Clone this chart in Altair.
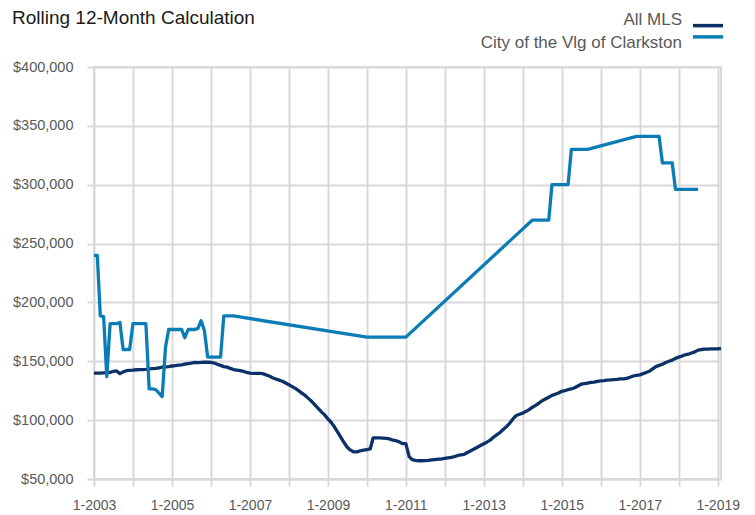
import altair as alt
import pandas as pd

TITLE = "Rolling 12-Month Calculation"
SERIES = ["All MLS", "City of the Vlg of Clarkston"]
COLORS = ["#0b3168", "#0b7db6"]
FONT = "Liberation Sans"

# All MLS: monthly, Jan 2003 .. Feb 2019 (thousands of $)
MLS_START = "2003-01-01"
MLS_END = "2019-02-01"
MLS_VALUES = [
    140, 140, 140, 140.2, 140.3, 140.5, 141.5, 141.8, 139.5, 141, 142, 142.3,        # 2003
    142.5, 142.8, 143, 143, 143.2, 143.5, 143.8, 144, 144.5, 145, 145.3, 145.5,     # 2004
    146, 146.3, 146.8, 147, 147.5, 148, 148.5, 149, 148.8, 149, 149.2, 149.3,       # 2005
    149, 148.5, 147.5, 146.5, 145.5, 145, 144, 143, 142.5, 142, 141.5, 140.5,       # 2006
    140, 139.8, 139.8, 139.8, 139.5, 138.5, 137.5, 136, 135, 134, 133, 131.5,       # 2007
    130, 128.5, 127, 125, 123, 121, 118.5, 116, 113, 110, 107, 104.5,               # 2008
    101, 98, 94.5, 90, 85.5, 81, 77, 74.5, 73, 73, 74, 74.5,                        # 2009
    75, 75.5, 85, 85, 85, 84.8, 84.5, 84, 83, 82.5, 81.5, 80,                       # 2010
    80, 69, 66.5, 65.8, 65.5, 65.5, 65.6, 65.8, 66.2, 66.5, 66.8, 67,               # 2011
    67.5, 68, 68.3, 69, 70, 70.5, 71, 72.5, 74, 75.5, 77, 78.5,                     # 2012
    80, 81.5, 83, 85.5, 87.5, 89.5, 92, 94.5, 97.5, 101, 104, 105,                  # 2013
    106, 107.5, 109, 111, 112.5, 114.5, 116.5, 118, 119.5, 121, 122, 123,           # 2014
    124.5, 125, 126, 126.5, 127.5, 129, 130.5, 131, 131.5, 132, 132.3, 133,         # 2015
    133.3, 133.5, 134, 134.2, 134.5, 134.7, 135, 135, 135.5, 136.5, 137.5, 138,     # 2016
    138.5, 139.5, 140.5, 141.5, 143.5, 145.5, 146.5, 147.5, 149, 150, 151, 152.5,   # 2017
    153.5, 154.5, 155.5, 156, 157, 158, 159.5, 160, 160.3, 160.3, 160.5, 160.5,     # 2018
    160.5, 161,                                                                      # 2019
]

# City of the Vlg of Clarkston: months with data (thousands of $)
CLARK_MONTHS = [
    "2003-01", "2003-02", "2003-03", "2003-04", "2003-05", "2003-06", "2003-07",
    "2003-08", "2003-09", "2003-10", "2003-11", "2003-12", "2004-01", "2004-02",
    "2004-03", "2004-04", "2004-05", "2004-06", "2004-07", "2004-08", "2004-09",
    "2004-10", "2004-11", "2004-12", "2005-01", "2005-02", "2005-03", "2005-04",
    "2005-05", "2005-06", "2005-07", "2005-08", "2005-09", "2005-10", "2005-11",
    "2005-12", "2006-01", "2006-02", "2006-03", "2006-04", "2006-05", "2006-06",
    "2006-07", "2006-08", "2010-01", "2011-01", "2014-04", "2014-09", "2014-10",
    "2015-03", "2015-04", "2015-09", "2016-12", "2017-07", "2017-08", "2017-11",
    "2017-12", "2018-07",
]
CLARK_VALUES = [
    240, 240, 188.5, 188, 137, 182, 182,
    182, 183, 160, 160, 160, 182, 182,
    182, 182, 182, 126.5, 126.5, 126, 123,
    120, 162, 177, 177, 177, 177, 177,
    170, 177, 177, 177, 178, 184.5, 176,
    153.5, 153.5, 153.5, 153.5, 153.5, 188.5, 188.5,
    188.5, 188.5, 170.5, 170.5, 270, 270, 300,
    300, 330, 330, 341, 341, 318.5, 318.5,
    296, 296,
]

Y_TICKS = [50000, 100000, 150000, 200000, 250000, 300000, 350000, 400000]
X_TICK_YEARS = list(range(2003, 2020))

mls_dates = pd.date_range(MLS_START, MLS_END, freq="MS")
assert len(mls_dates) == len(MLS_VALUES)
rows = []
for d, v in zip(mls_dates, MLS_VALUES):
    rows.append({"date": d.strftime("%Y-%m-%d"), "value": v * 1000, "series": SERIES[0]})
for m, v in zip(CLARK_MONTHS, CLARK_VALUES):
    rows.append({"date": m + "-01", "value": v * 1000, "series": SERIES[1]})
df = pd.DataFrame(rows)

GRID = "#d9d9d9"
LABEL = "#595959"

color_scale = alt.Scale(domain=SERIES, range=COLORS)

lines = alt.Chart(df).mark_line(strokeWidth=3.3, strokeJoin="round").encode(
    x=alt.X(
        "date:T",
        title=None,
        scale=alt.Scale(
            type="utc",
            nice=False,
            domain=[alt.DateTime(year=2003, month=1, date=1, utc=True),
                    alt.DateTime(year=2019, month=2, date=1, utc=True)],
        ),
        axis=alt.Axis(
            values=[alt.DateTime(year=y, month=1, date=1, utc=True) for y in X_TICK_YEARS],
            labelExpr="utcyear(datum.value) % 2 == 1 ? utcFormat(datum.value, '%-m-%Y') : ''",
            labelOverlap=False, labelFlush=False, labelAlign="center",
            labelFont=FONT, labelFontSize=14, labelColor=LABEL,
            labelPadding=12, tickSize=7, tickColor=GRID, tickWidth=2,
            domainColor=GRID, domainWidth=2,
            grid=True, gridColor=GRID, gridWidth=2,
        ),
    ),
    y=alt.Y(
        "value:Q",
        title=None,
        scale=alt.Scale(domain=[50000, 400000], nice=False, zero=False),
        axis=alt.Axis(
            values=Y_TICKS, format="$,.0f",
            labelFont=FONT, labelFontSize=14.5, labelColor=LABEL,
            labelPadding=14, tickSize=7, tickColor=GRID, tickWidth=2,
            domain=False, grid=True, gridColor=GRID, gridWidth=2,
        ),
    ),
    color=alt.Color("series:N", scale=color_scale, legend=None),
    order=alt.Order("date:T"),
)

legend_df = pd.DataFrame({"series": SERIES})
legend_y = alt.Y("series:N", axis=None,
                 scale=alt.Scale(domain=SERIES, range=[-47, -24.5], padding=0))

legend_text = alt.Chart(legend_df).mark_text(
    align="right", baseline="middle", font=FONT, fontSize=17, color=LABEL
).encode(
    text="series:N",
    x=alt.value(588),
    y=legend_y,
)

legend_sym = alt.Chart(legend_df).mark_rule(strokeWidth=3.5).encode(
    x=alt.value(599),
    x2=alt.value(629),
    y=legend_y,
    color=alt.Color("series:N", scale=color_scale, legend=None),
)

title = alt.Chart(pd.DataFrame({"t": [TITLE]})).mark_text(
    align="left", baseline="alphabetic", font=FONT, fontSize=19, color="#1a1a1a"
).encode(
    text="t:N",
    x=alt.value(-82),
    y=alt.value(-43),
)

chart = alt.layer(lines, legend_text, legend_sym, title).resolve_scale(
    y="independent"
).properties(
    width=627,
    height=412,
    autosize=alt.AutoSizeParams(type="none"),
    padding={"left": 86, "top": 59, "right": 26, "bottom": 36},
).configure_view(
    stroke=GRID, strokeWidth=2
)

chart.save("out.html", embed_options={"renderer": "svg", "actions": False})
